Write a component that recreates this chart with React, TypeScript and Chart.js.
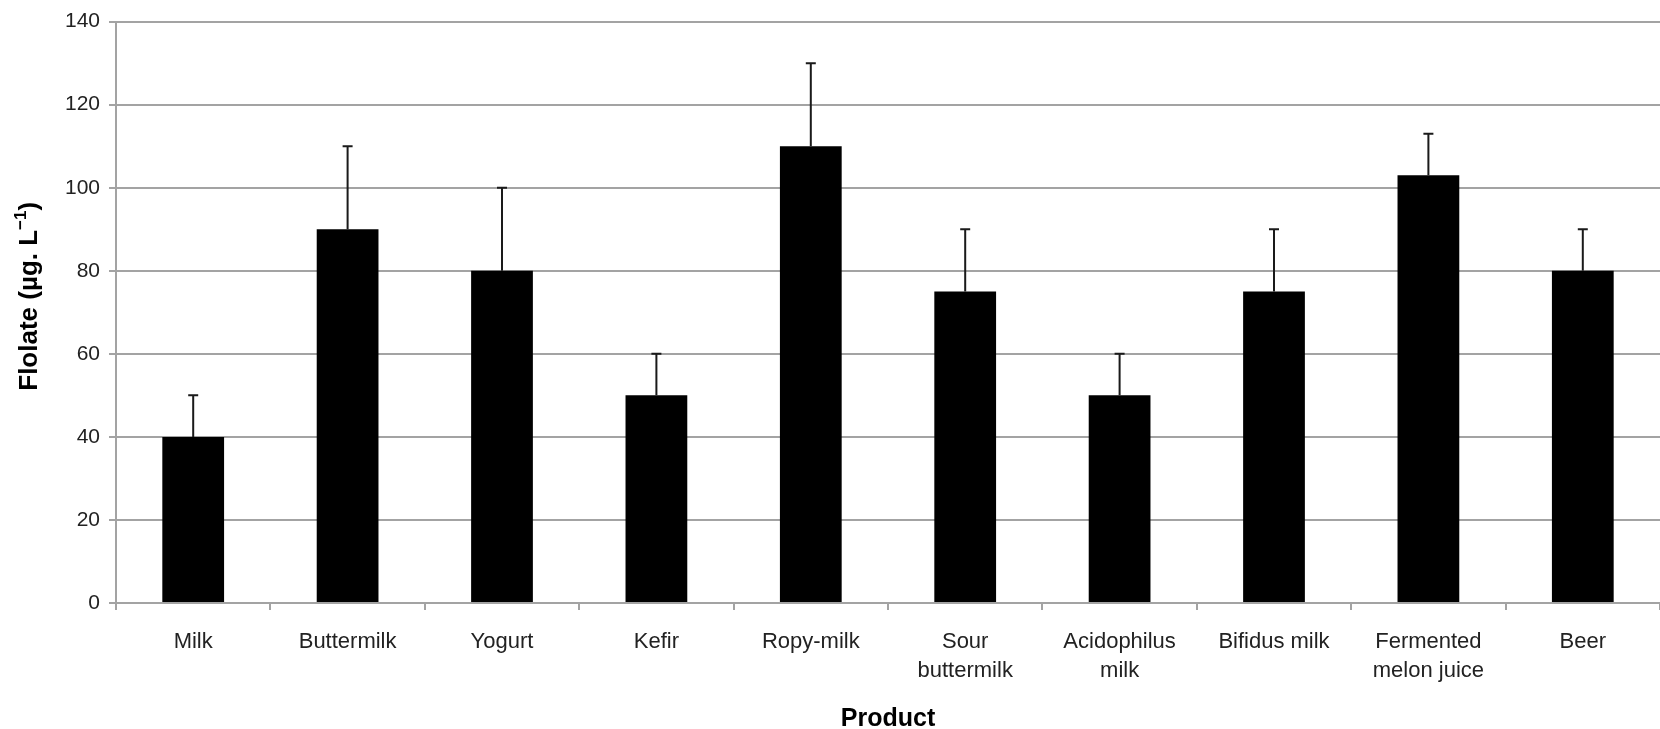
import React, { useEffect, useRef } from "react";
import { Chart, registerables } from "chart.js";

Chart.register(...registerables);

// Products on the x axis (arrays mean multi-line labels)
const products: (string | string[])[] = [
  "Milk",
  "Buttermilk",
  "Yogurt",
  "Kefir",
  "Ropy-milk",
  ["Sour", "buttermilk"],
  ["Acidophilus", "milk"],
  "Bifidus milk",
  ["Fermented", "melon juice"],
  "Beer",
];

// Mean folate content, µg/L
const folate: number[] = [40, 90, 80, 50, 110, 75, 50, 75, 103, 80];

// Upper error (standard deviation), µg/L
const folateError: number[] = [10, 20, 20, 10, 20, 15, 10, 15, 10, 10];

// Value axis ticks
const yMin = 0;
const yMax = 140;
const yStep = 20;

const GRID = "#a3a3a3";
const TEXT = "#222222";

// Upper-only error bars with a small cap
const errorBars = {
  id: "errorBars",
  afterDatasetsDraw(chart: any) {
    const { ctx, scales } = chart;
    const xs = scales.x;
    const ys = scales.y;
    ctx.save();
    ctx.strokeStyle = "#1a1a1a";
    ctx.lineWidth = 2;
    folate.forEach((v, i) => {
      const x = xs.getPixelForValue(i);
      const y0 = ys.getPixelForValue(v);
      const y1 = ys.getPixelForValue(v + folateError[i]);
      ctx.beginPath();
      ctx.moveTo(x, y0);
      ctx.lineTo(x, y1);
      ctx.moveTo(x - 5, y1);
      ctx.lineTo(x + 5, y1);
      ctx.stroke();
    });
    ctx.restore();
  },
};

// Rotated y-axis title with a superscript exponent
const yTitle = {
  id: "yTitle",
  afterDraw(chart: any) {
    const { ctx, chartArea } = chart;
    const main = "bold 26px 'Liberation Sans', Arial, sans-serif";
    const sup = "bold 17px 'Liberation Sans', Arial, sans-serif";
    const partA = "Flolate (µg. L";
    const partB = "\u22121";
    const partC = ")";
    ctx.save();
    ctx.font = main;
    const wA = ctx.measureText(partA).width;
    const wC = ctx.measureText(partC).width;
    ctx.font = sup;
    const wB = ctx.measureText(partB).width;
    const total = wA + wB + wC;
    const cy = (chartArea.top + chartArea.bottom) / 2 - 16;
    ctx.translate(37, cy);
    ctx.rotate(-Math.PI / 2);
    ctx.fillStyle = "#000";
    ctx.textBaseline = "alphabetic";
    ctx.textAlign = "left";
    let x = -total / 2;
    ctx.font = main;
    ctx.fillText(partA, x, 0);
    x += wA;
    ctx.font = sup;
    ctx.fillText(partB, x, -11);
    x += wB;
    ctx.font = main;
    ctx.fillText(partC, x, 0);
    ctx.restore();
  },
};

export default function App() {
  const canvasRef = useRef<HTMLCanvasElement | null>(null);

  useEffect(() => {
    const canvas = canvasRef.current;
    if (!canvas) return;
    const chart = new Chart(canvas, {
      type: "bar",
      data: {
        labels: products,
        datasets: [
          {
            data: folate,
            backgroundColor: "#000000",
            borderWidth: 0,
            barPercentage: 0.4,
            categoryPercentage: 1,
          },
        ],
      },
      options: {
        responsive: false,
        animation: false,
        devicePixelRatio: 1,
        layout: { padding: { top: 21, right: 0, bottom: 0, left: 0 } },
        plugins: {
          legend: { display: false },
          tooltip: { enabled: false },
        },
        scales: {
          x: {
            offset: true,
            grid: {
              offset: true,
              drawOnChartArea: false,
              drawTicks: true,
              tickLength: 7,
              color: GRID,
              lineWidth: 2,
            },
            border: { color: GRID, width: 2 },
            ticks: {
              color: TEXT,
              padding: 18,
              maxRotation: 0,
              autoSkip: false,
              font: { family: "'Liberation Sans', Arial, sans-serif", size: 22, lineHeight: 1.3 },
            },
            title: {
              display: true,
              text: "Product",
              color: "#000",
              padding: { top: 0, bottom: 0 },
              font: { family: "'Liberation Sans', Arial, sans-serif", size: 25, weight: "bold", lineHeight: 0.8 },
            },
            afterFit(scale: any) {
              scale.height = 126;
            },
          },
          y: {
            min: yMin,
            max: yMax,
            ticks: {
              stepSize: yStep,
              color: TEXT,
              padding: 9,
              font: { family: "'Liberation Sans', Arial, sans-serif", size: 21 },
            },
            grid: {
              color: GRID,
              lineWidth: 2,
              drawTicks: true,
              tickLength: 7,
            },
            border: { color: GRID, width: 2 },
            afterFit(scale: any) {
              scale.width = 116;
            },
          },
        },
      },
      plugins: [errorBars, yTitle],
    });
    return () => chart.destroy();
  }, []);

  return (
    <div style={{ position: "absolute", left: 0, top: 0, width: 1660, height: 729, background: "#fff" }}>
      <canvas ref={canvasRef} width={1660} height={729} style={{ display: "block" }} />
    </div>
  );
}
